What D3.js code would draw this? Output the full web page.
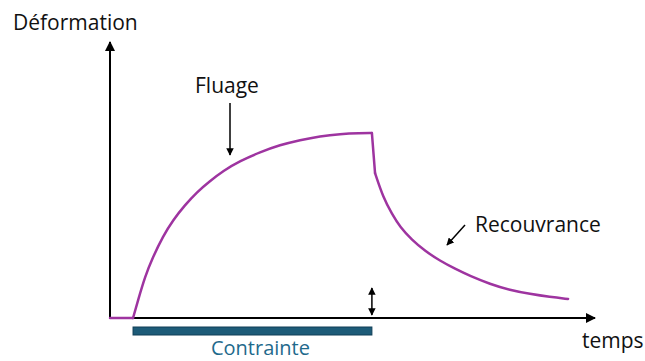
<!DOCTYPE html>
<html>
<head>
<meta charset="utf-8">
<script src="https://cdn.jsdelivr.net/npm/d3@7"></script>
<style>
  html, body { margin: 0; padding: 0; background: #fff; }
  svg { display: block; }
  text { font-family: "Open Sans", "Noto Sans", sans-serif; }
</style>
</head>
<body>
<svg id="chart" width="645" height="361"></svg>
<script>
// Strain before loading: [time, strain]
const restTime   = [0, 0.95];
const restStrain = [0, 0];

// Creep (fluage) phase under constant stress
const creepTime   = [0.95, 1.16, 1.44, 1.77, 2.19, 2.60, 3.09, 3.59, 4.12, 4.66, 5.36, 6.19, 7.01, 7.84, 8.66, 9.49, 10.31, 10.80];
const creepStrain = [0,    0.065, 0.149, 0.221, 0.297, 0.355, 0.409, 0.457, 0.496, 0.533, 0.569, 0.601, 0.627, 0.645, 0.659, 0.667, 0.670, 0.670];

// Instantaneous elastic recovery at unloading
const dropTime   = [10.80, 10.93];
const dropStrain = [0.670, 0.525];

// Delayed recovery (recouvrance) phase
const recovTime   = [10.93, 11.26, 11.63, 11.96, 12.45, 12.99, 13.61, 14.23, 14.85, 15.67, 16.49, 17.32, 18.14, 18.89];
const recovStrain = [0.525, 0.438, 0.377, 0.330, 0.283, 0.243, 0.207, 0.178, 0.152, 0.123, 0.101, 0.087, 0.076, 0.069];

// Stress application interval
const stressStart = 0.95;
const stressEnd = 10.80;

// Labels
const yLabel = "Déformation";
const xLabel = "temps";
const creepLabel = "Fluage";
const recovLabel = "Recouvrance";
const stressLabel = "Contrainte";

const svg = d3.select("#chart");

const x = d3.scaleLinear().domain([0, 20]).range([110, 595]);
const y = d3.scaleLinear().domain([0, 1]).range([318, 42]);

const defs = svg.append("defs");
defs.append("marker")
  .attr("id", "arrow")
  .attr("viewBox", "0 0 10 10")
  .attr("refX", 9).attr("refY", 5)
  .attr("markerWidth", 5).attr("markerHeight", 5)
  .attr("markerUnits", "strokeWidth")
  .attr("orient", "auto-start-reverse")
  .append("path")
  .attr("d", "M0,0 L10,5 L0,10 z")
  .attr("fill", "#000");

// Axes: plain lines without ticks, ending in arrowheads
const xAxis = svg.append("g")
  .attr("transform", `translate(0,${y(0)})`)
  .call(d3.axisBottom(x).tickValues([]).tickSizeOuter(0));
const yAxis = svg.append("g")
  .attr("transform", `translate(${x(0)},0)`)
  .call(d3.axisLeft(y).tickValues([]).tickSizeOuter(0));
[xAxis, yAxis].forEach(g => {
  g.select(".domain")
    .attr("stroke", "#000")
    .attr("stroke-width", 2)
    .attr("marker-end", "url(#arrow)");
});
yAxis.select(".domain").attr("d", `M0,${y(0) + 1}V${y(1)}`);
xAxis.select(".domain").attr("d", `M${x(0) - 1},0H${x(20)}`);

// Strain curve, piece by piece
const pairs = (ts, vs) => ts.map((t, i) => [t, vs[i]]);
const straight = d3.line().x(d => x(d[0])).y(d => y(d[1]));
const smooth = d3.line().x(d => x(d[0])).y(d => y(d[1])).curve(d3.curveBasis);

const pieces = [
  [pairs(restTime, restStrain), straight],
  [pairs(creepTime, creepStrain), smooth],
  [pairs(dropTime, dropStrain), straight],
  [pairs(recovTime, recovStrain), smooth]
];
pieces.forEach(([data, gen]) => {
  svg.append("path")
    .datum(data)
    .attr("d", gen)
    .attr("fill", "none")
    .attr("stroke", "#9e34a0")
    .attr("stroke-width", 2.5)
    .attr("stroke-linecap", "round")
    .attr("stroke-linejoin", "round");
});

// Stress bar
svg.append("rect")
  .attr("x", x(stressStart))
  .attr("y", 327)
  .attr("width", x(stressEnd) - x(stressStart))
  .attr("height", 8)
  .attr("fill", "#1d5b78")
  .attr("stroke", "#103f57")
  .attr("stroke-width", 1);

svg.append("text")
  .attr("x", (x(stressStart) + x(stressEnd)) / 2 + 8)
  .attr("y", 355)
  .attr("text-anchor", "middle")
  .attr("font-size", 20)
  .attr("fill", "#1f6a8c")
  .text(stressLabel);

// Residual-strain double arrow at unloading
svg.append("line")
  .attr("x1", x(stressEnd)).attr("x2", x(stressEnd))
  .attr("y1", 288).attr("y2", 315)
  .attr("stroke", "#000")
  .attr("stroke-width", 1.5)
  .attr("marker-start", "url(#arrow)")
  .attr("marker-end", "url(#arrow)");

// Annotation arrows
svg.append("line")
  .attr("x1", 230).attr("x2", 230)
  .attr("y1", 103).attr("y2", 155)
  .attr("stroke", "#000").attr("stroke-width", 1.5)
  .attr("marker-end", "url(#arrow)");
svg.append("line")
  .attr("x1", 465).attr("x2", 447)
  .attr("y1", 225).attr("y2", 245)
  .attr("stroke", "#000").attr("stroke-width", 1.5)
  .attr("marker-end", "url(#arrow)");

// Text labels
const fs = 21;
svg.append("text").attr("x", 13).attr("y", 30).attr("font-size", fs).attr("fill", "#111").text(yLabel);
svg.append("text").attr("x", 582).attr("y", 348).attr("font-size", fs).attr("fill", "#111").text(xLabel);
svg.append("text").attr("x", 195).attr("y", 93).attr("font-size", fs).attr("fill", "#111").text(creepLabel);
svg.append("text").attr("x", 475).attr("y", 232).attr("font-size", fs).attr("fill", "#111").text(recovLabel);
</script>
</body>
</html>
